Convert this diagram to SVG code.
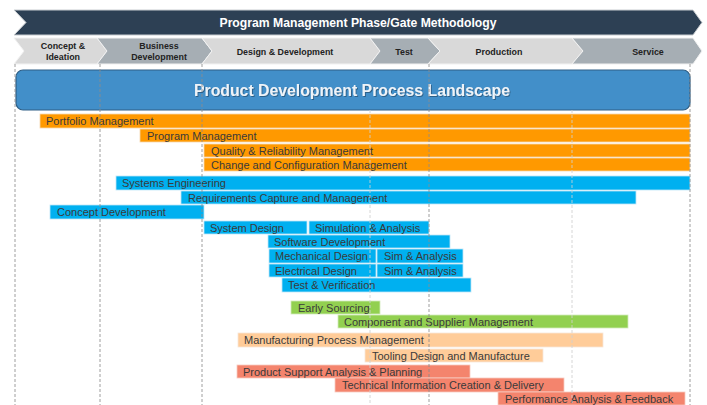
<svg xmlns="http://www.w3.org/2000/svg" width="707" height="405" viewBox="0 0 707 405">
  <style>
    .phase-light { fill: #D9D9D9; stroke: #F2F2F2; stroke-width: 1; }
    .phase-dark { fill: #A6AEB4; stroke: #F2F2F2; stroke-width: 1; }
    .phase-label { font-family: "Liberation Sans", Arial, sans-serif; font-size: 8.9px; font-weight: bold; fill: #222; text-anchor: middle; }
    .bar-label { font-family: "Liberation Sans", Arial, sans-serif; font-size: 11px; fill: #3A3A3A; }
    .orange { fill: #FF9900; stroke: #F5D7B0; stroke-width: 0.8; }
    .blue { fill: #00B0F0; stroke: #BFE6F7; stroke-width: 0.8; }
    .green { fill: #92D050; stroke: #D2EABB; stroke-width: 0.8; }
    .peach { fill: #FFCC99; stroke: #F7E7D7; stroke-width: 0.8; }
    .salmon { fill: #F4846D; stroke: #F7CBC1; stroke-width: 0.8; }
    .grid-dark { stroke: #8C8C8C; stroke-width: 1; stroke-dasharray: 3 2; fill: none; }
    .grid-light { stroke: #D0D0D0; stroke-width: 1; stroke-dasharray: 3 2; fill: none; }
  </style>
  <defs>
    <filter id="textShadow" x="-5%" y="-30%" width="110%" height="160%">
      <feDropShadow dx="1" dy="1" stdDeviation="0.6" flood-color="#1F3F5F" flood-opacity="0.6"/>
    </filter>
  </defs>

  <rect width="707" height="405" fill="#FFFFFF"/>

  <!-- Methodology banner -->
  <g id="methodology-banner">
    <polygon points="14,10 693,10 702,22.5 693,35 14,35 26,22.5" fill="#2D4054" stroke="#C8CCD0" stroke-width="1"/>
    <text x="358" y="27" font-family="'Liberation Sans', Arial, sans-serif" font-size="12.2" font-weight="bold" fill="#FFFFFF" text-anchor="middle">Program Management Phase/Gate Methodology</text>
  </g>

  <!-- Phase chevrons -->
  <g id="phase-concept">
    <polygon class="phase-light" points="14,38 97,38 107,51 97,64 14,64 24,51"/>
    <text class="phase-label" x="63" y="49">Concept &amp;</text>
    <text class="phase-label" x="63" y="60">Ideation</text>
  </g>
  <g id="phase-business">
    <polygon class="phase-dark" points="97,38 202,38 212,51 202,64 97,64 107,51"/>
    <text class="phase-label" x="159" y="49">Business</text>
    <text class="phase-label" x="159" y="60">Development</text>
  </g>
  <g id="phase-design">
    <polygon class="phase-light" points="202,38 370,38 380,51 370,64 202,64 212,51"/>
    <text class="phase-label" x="285" y="55">Design &amp; Development</text>
  </g>
  <g id="phase-test">
    <polygon class="phase-dark" points="370,38 428,38 440,51 428,64 370,64 380,51"/>
    <text class="phase-label" x="404" y="55">Test</text>
  </g>
  <g id="phase-production">
    <polygon class="phase-light" points="428,38 572,38 583,51 572,64 428,64 440,51"/>
    <text class="phase-label" x="499" y="55">Production</text>
  </g>
  <g id="phase-service">
    <polygon class="phase-dark" points="572,38 693,38 702,51 693,64 572,64 583,51"/>
    <text class="phase-label" x="648" y="55">Service</text>
  </g>

  <!-- Landscape header -->
  <g id="landscape-header">
    <rect x="16" y="70" width="674" height="40" rx="7" ry="7" fill="#428FC9" stroke="#2F5F86" stroke-width="1.2"/>
    <text x="352" y="96" font-family="'Liberation Sans', Arial, sans-serif" font-size="15.8" font-weight="bold" fill="#EEF3F8" text-anchor="middle" filter="url(#textShadow)">Product Development Process Landscape</text>
  </g>

  <!-- Management activities -->
  <g id="portfolio-management">
    <rect class="orange" x="40" y="114" width="650" height="14"/>
    <text class="bar-label" x="46" y="125">Portfolio Management</text>
  </g>
  <g id="program-management">
    <rect class="orange" x="140" y="129" width="550" height="13"/>
    <text class="bar-label" x="147" y="139.5">Program Management</text>
  </g>
  <g id="quality-reliability">
    <rect class="orange" x="204" y="144" width="486" height="13"/>
    <text class="bar-label" x="211" y="154.5">Quality &amp; Reliability Management</text>
  </g>
  <g id="change-configuration">
    <rect class="orange" x="204" y="158" width="486" height="13"/>
    <text class="bar-label" x="211" y="168.5">Change and Configuration Management</text>
  </g>

  <!-- Engineering activities -->
  <g id="systems-engineering">
    <rect class="blue" x="116" y="176" width="574" height="14"/>
    <text class="bar-label" x="122" y="187">Systems Engineering</text>
  </g>
  <g id="requirements-capture">
    <rect class="blue" x="181" y="191" width="455" height="13"/>
    <text class="bar-label" x="188" y="201.5">Requirements Capture and Management</text>
  </g>
  <g id="concept-development">
    <rect class="blue" x="50" y="205" width="154" height="14"/>
    <text class="bar-label" x="57" y="216">Concept Development</text>
  </g>
  <g id="system-design">
    <rect class="blue" x="204" y="221" width="103" height="13"/>
    <text class="bar-label" x="210" y="231.5">System Design</text>
  </g>
  <g id="simulation-analysis">
    <rect class="blue" x="309" y="221" width="120" height="13"/>
    <text class="bar-label" x="315" y="231.5">Simulation &amp; Analysis</text>
  </g>
  <g id="software-development">
    <rect class="blue" x="268" y="235" width="182" height="13"/>
    <text class="bar-label" x="274" y="245.5">Software Development</text>
  </g>
  <g id="mechanical-design">
    <rect class="blue" x="269" y="249" width="107" height="14"/>
    <text class="bar-label" x="275" y="260">Mechanical Design</text>
  </g>
  <g id="mechanical-sim">
    <rect class="blue" x="377" y="249" width="86" height="14"/>
    <text class="bar-label" x="384" y="260">Sim &amp; Analysis</text>
  </g>
  <g id="electrical-design">
    <rect class="blue" x="269" y="264" width="107" height="13"/>
    <text class="bar-label" x="275" y="274.5">Electrical Design</text>
  </g>
  <g id="electrical-sim">
    <rect class="blue" x="377" y="264" width="86" height="13"/>
    <text class="bar-label" x="384" y="274.5">Sim &amp; Analysis</text>
  </g>
  <g id="test-verification">
    <rect class="blue" x="282" y="278" width="189" height="14"/>
    <text class="bar-label" x="288" y="289">Test &amp; Verification</text>
  </g>

  <!-- Sourcing activities -->
  <g id="early-sourcing">
    <rect class="green" x="291" y="301" width="89" height="13"/>
    <text class="bar-label" x="298" y="311.5">Early Sourcing</text>
  </g>
  <g id="component-supplier">
    <rect class="green" x="338" y="315" width="290" height="13"/>
    <text class="bar-label" x="344" y="325.5">Component and Supplier Management</text>
  </g>

  <!-- Manufacturing activities -->
  <g id="manufacturing-process">
    <rect class="peach" x="238" y="333" width="365" height="14"/>
    <text class="bar-label" x="244" y="344">Manufacturing Process Management</text>
  </g>
  <g id="tooling-design">
    <rect class="peach" x="365" y="349" width="178" height="13"/>
    <text class="bar-label" x="372" y="359.5">Tooling Design and Manufacture</text>
  </g>

  <!-- Support activities -->
  <g id="product-support">
    <rect class="salmon" x="237" y="365" width="233" height="13"/>
    <text class="bar-label" x="243" y="375.5">Product Support Analysis &amp; Planning</text>
  </g>
  <g id="technical-information">
    <rect class="salmon" x="335" y="378" width="229" height="14"/>
    <text class="bar-label" x="342" y="389">Technical Information Creation &amp; Delivery</text>
  </g>
  <g id="performance-feedback">
    <rect class="salmon" x="498" y="392" width="187" height="13"/>
    <text class="bar-label" x="505" y="402.5">Performance Analysis &amp; Feedback</text>
  </g>

  <!-- Phase boundary lines -->
  <g id="connectors" opacity="0.85">
    <line class="grid-dark" x1="15" y1="64" x2="15" y2="405"/>
    <line class="grid-dark" x1="100" y1="64" x2="100" y2="405"/>
    <line class="grid-dark" x1="202" y1="64" x2="202" y2="405"/>
    <line class="grid-light" x1="370" y1="110" x2="370" y2="405"/>
    <line class="grid-dark" x1="429" y1="64" x2="429" y2="405"/>
    <line class="grid-light" x1="572" y1="110" x2="572" y2="405"/>
    <line class="grid-dark" x1="690" y1="64" x2="690" y2="405"/>
  </g>
</svg>
